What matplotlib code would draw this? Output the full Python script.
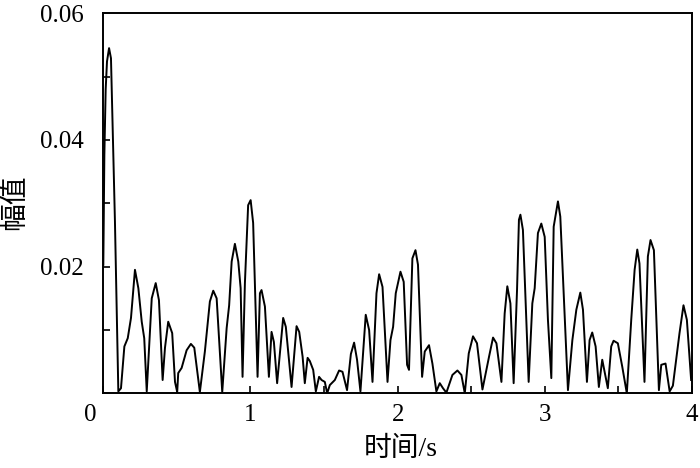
"""
plot.py

Redraws the amplitude vs time trace (幅值 over 时间/s) and writes out.png
"""

import matplotlib

matplotlib.use("Agg")  # no display
import matplotlib.pyplot as plt
from matplotlib.ticker import MultipleLocator
from matplotlib.transforms import ScaledTranslation


# data
time_s = [
    0.000, 0.007, 0.016, 0.025, 0.039, 0.052, 0.079, 0.102, 0.120, 0.143,
    0.166, 0.188, 0.215, 0.238, 0.261, 0.278, 0.295, 0.329, 0.356, 0.378,
    0.403, 0.419, 0.441, 0.468, 0.487, 0.502, 0.509, 0.532, 0.566, 0.595,
    0.618, 0.656, 0.690, 0.724, 0.747, 0.770, 0.808, 0.838, 0.855, 0.872,
    0.894, 0.917, 0.933, 0.946, 0.962, 0.984, 1.001, 1.018, 1.048, 1.064,
    1.075, 1.098, 1.125, 1.143, 1.159, 1.181, 1.222, 1.240, 1.279, 1.313,
    1.331, 1.354, 1.369, 1.388, 1.403, 1.426, 1.444, 1.466, 1.483, 1.505,
    1.521, 1.539, 1.573, 1.602, 1.625, 1.656, 1.682, 1.704, 1.724, 1.747,
    1.783, 1.806, 1.829, 1.856, 1.874, 1.897, 1.931, 1.951, 1.969, 1.987,
    2.019, 2.041, 2.064, 2.077, 2.100, 2.121, 2.138, 2.166, 2.184, 2.213,
    2.236, 2.263, 2.286, 2.308, 2.331, 2.372, 2.406, 2.433, 2.456, 2.483,
    2.512, 2.539, 2.576, 2.621, 2.648, 2.671, 2.705, 2.727, 2.745, 2.766,
    2.788, 2.811, 2.824, 2.834, 2.851, 2.890, 2.915, 2.931, 2.953, 2.976,
    2.999, 3.021, 3.044, 3.060, 3.089, 3.105, 3.157, 3.187, 3.214, 3.241,
    3.259, 3.286, 3.304, 3.322, 3.345, 3.367, 3.390, 3.406, 3.428, 3.451,
    3.467, 3.496, 3.526, 3.557, 3.587, 3.610, 3.628, 3.643, 3.677, 3.700,
    3.718, 3.741, 3.775, 3.791, 3.820, 3.848, 3.870, 3.915, 3.942, 3.965,
    3.994,
]
amplitude = [
    0.0203, 0.0376, 0.0480, 0.0524, 0.0545, 0.0529, 0.0271, 0.0003, 0.0008, 0.0074,
    0.0087, 0.0119, 0.0195, 0.0166, 0.0113, 0.0087, 0.0003, 0.0150, 0.0174, 0.0147,
    0.0021, 0.0072, 0.0113, 0.0095, 0.0018, 0.0002, 0.0032, 0.0040, 0.0068, 0.0078,
    0.0072, 0.0002, 0.0066, 0.0145, 0.0162, 0.0150, 0.0002, 0.0103, 0.0139, 0.0208,
    0.0236, 0.0208, 0.0166, 0.0026, 0.0174, 0.0297, 0.0305, 0.0269, 0.0026, 0.0158,
    0.0163, 0.0137, 0.0026, 0.0097, 0.0081, 0.0016, 0.0119, 0.0105, 0.0010, 0.0106,
    0.0097, 0.0058, 0.0016, 0.0056, 0.0051, 0.0037, 0.0003, 0.0026, 0.0021, 0.0018,
    0.0000, 0.0013, 0.0021, 0.0036, 0.0034, 0.0005, 0.0062, 0.0080, 0.0053, 0.0003,
    0.0124, 0.0100, 0.0018, 0.0158, 0.0188, 0.0168, 0.0018, 0.0084, 0.0105, 0.0158,
    0.0192, 0.0176, 0.0045, 0.0037, 0.0213, 0.0226, 0.0203, 0.0026, 0.0066, 0.0076,
    0.0047, 0.0003, 0.0016, 0.0008, 0.0001, 0.0029, 0.0036, 0.0029, 0.0000, 0.0063,
    0.0090, 0.0079, 0.0006, 0.0058, 0.0088, 0.0079, 0.0018, 0.0126, 0.0169, 0.0142,
    0.0016, 0.0163, 0.0274, 0.0282, 0.0258, 0.0018, 0.0142, 0.0166, 0.0253, 0.0268,
    0.0247, 0.0116, 0.0024, 0.0263, 0.0303, 0.0279, 0.0005, 0.0084, 0.0132, 0.0159,
    0.0132, 0.0018, 0.0084, 0.0096, 0.0074, 0.0010, 0.0053, 0.0034, 0.0008, 0.0074,
    0.0083, 0.0079, 0.0042, 0.0000, 0.0116, 0.0195, 0.0227, 0.0205, 0.0018, 0.0216,
    0.0242, 0.0226, 0.0005, 0.0045, 0.0047, 0.0003, 0.0012, 0.0095, 0.0139, 0.0116,
    0.0021,
]

x_ticks = [0, 1, 2, 3, 4]
y_ticks = [0.02, 0.04, 0.06]
x_label = "时间/s"
y_label = "幅值"

# serif for numbers, CJK fallback for the chinese characters
FONT = ["Liberation Serif", "Noto Sans CJK SC"]
TICK_SIZE = 18
LABEL_SIZE = 20


def main() -> None:
    plt.rcParams["font.family"] = FONT
    plt.rcParams["font.size"] = TICK_SIZE

    fig = plt.figure(figsize=(7.0, 4.68), dpi=100)
    ax = fig.add_axes([0.1476, 0.1596, 0.8410, 0.8120])

    ax.plot(time_s, amplitude, color="black", linewidth=1.4)

    ax.set_xlim(0, 4)
    ax.set_ylim(0, 0.06)
    ax.set_xticks(x_ticks)
    ax.set_xticklabels([str(t) for t in x_ticks])
    ax.set_yticks(y_ticks)
    ax.set_yticklabels([f"{t:.2f}" for t in y_ticks])
    ax.xaxis.set_minor_locator(MultipleLocator(0.5))
    ax.yaxis.set_minor_locator(MultipleLocator(0.01))

    ax.tick_params(which="both", direction="in", length=5, width=1.2,
                   top=False, right=False)
    ax.tick_params(axis="x", pad=8)
    ax.tick_params(axis="y", pad=14)
    for side in ax.spines.values():
        side.set_linewidth(1.4)

    # the origin "0" sits a little left of the corner in the reference
    zero = ax.get_xticklabels()[0]
    zero.set_transform(zero.get_transform()
                       + ScaledTranslation(-0.13, 0, fig.dpi_scale_trans))

    ax.set_xlabel(x_label, va="center", fontsize=LABEL_SIZE)
    ax.xaxis.set_label_coords(0.506, -0.147)
    ax.set_ylabel(y_label, va="center", fontsize=LABEL_SIZE)
    ax.yaxis.set_label_coords(-0.150, 0.503)

    fig.savefig("out.png", dpi=100)
    plt.close(fig)


if __name__ == "__main__":
    main()
